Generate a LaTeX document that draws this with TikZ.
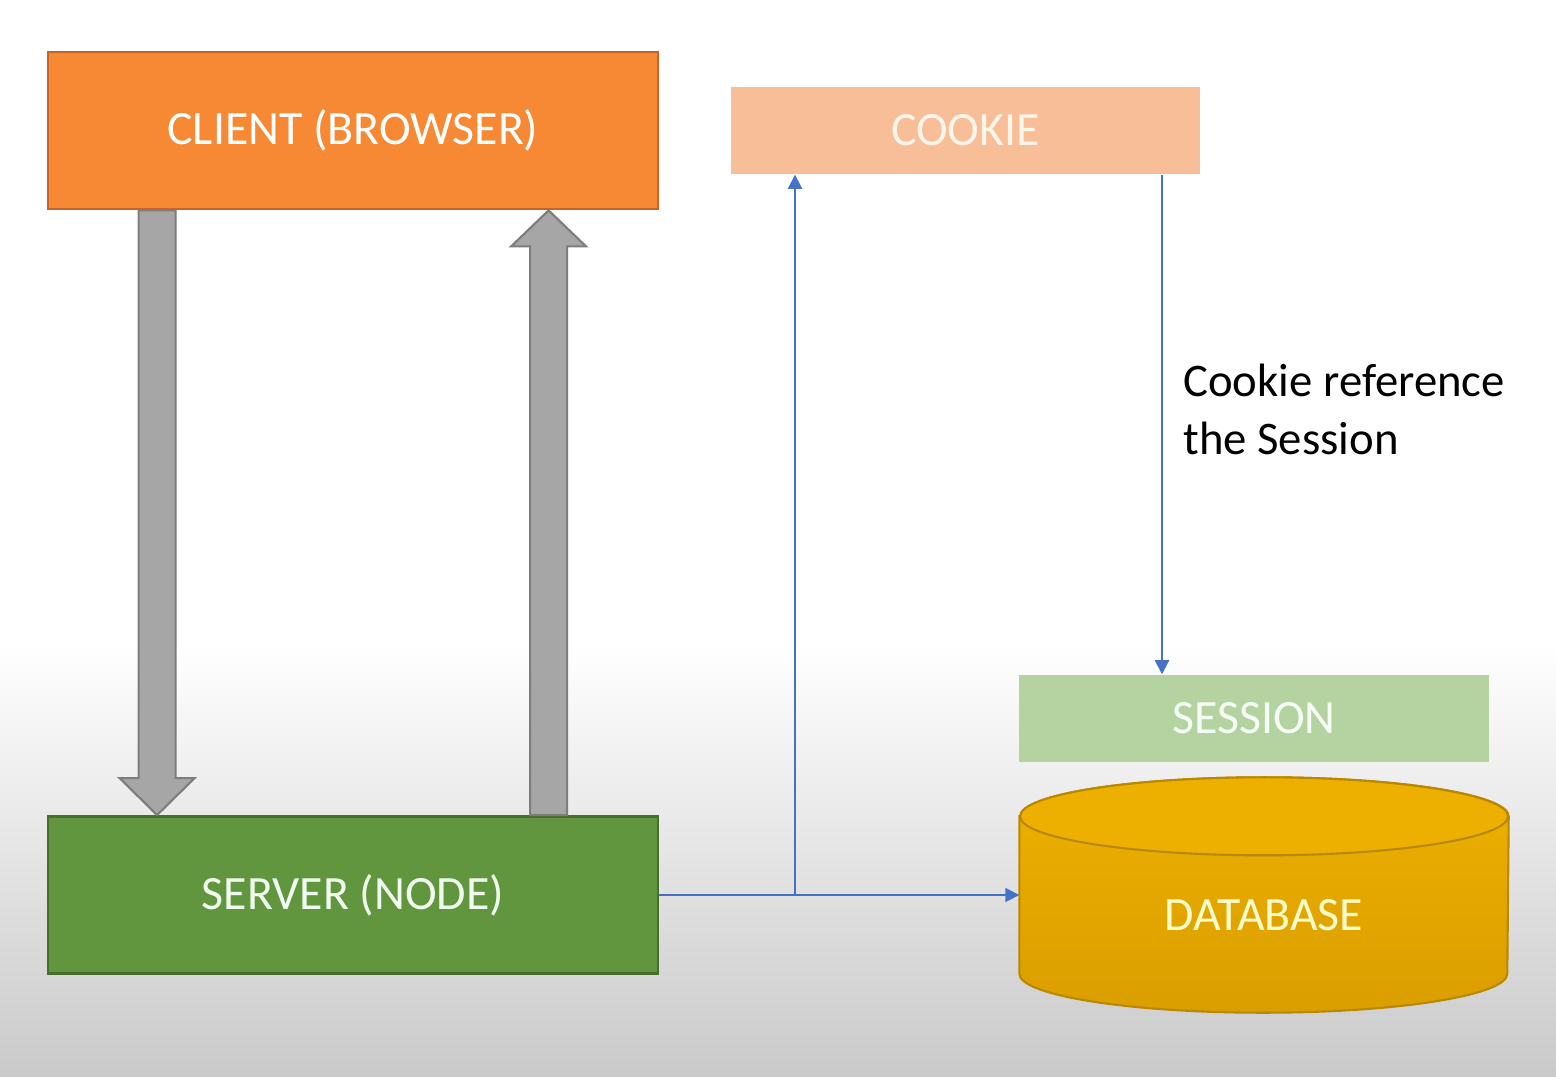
\documentclass[tikz,border=0pt]{standalone}
\usepackage{fontspec}
\setmainfont{Carlito}
\usetikzlibrary{calc,arrows.meta}
\definecolor{clientfill}{RGB}{247,136,52}
\definecolor{clientline}{RGB}{200,100,40}
\definecolor{cookiefill}{RGB}{248,190,152}
\definecolor{serverfill}{RGB}{98,150,62}
\definecolor{serverline}{RGB}{70,110,45}
\definecolor{sessionfill}{RGB}{181,211,160}
\definecolor{dbtop}{RGB}{238,176,0}
\definecolor{dbbottom}{RGB}{218,158,0}
\definecolor{dbline}{RGB}{185,135,0}
\definecolor{arrowfill}{RGB}{166,166,166}
\definecolor{arrowline}{RGB}{125,125,125}
\definecolor{linkblue}{RGB}{68,114,196}
\begin{document}
\begin{tikzpicture}[
    box/.style={rectangle, inner sep=0pt, font=\fontsize{13.6}{16}\selectfont},
    lowtext/.style={text depth=0.1cm},
    blockarrow/.style={fill=arrowfill, draw=arrowline, line width=0.6pt},
    link/.style={draw=linkblue, line width=0.5pt},
    tip/.style={-{Triangle[width=4pt,length=4pt]}}
  ]
  % background
  \useasboundingbox (0,0) rectangle (15.56,10.76);
  \fill[white] (0,4.3) rectangle (15.56,10.76);
  \shade[top color=white, bottom color=black!21] (0,0) rectangle (15.56,4.31);

  % boxes
  \node[box, fill=clientfill, draw=clientline, line width=0.8pt, minimum width=6.1cm, minimum height=1.57cm, text=white] (client) at (3.53,9.455) {CLIENT (BROWSER)};
  \node[box, fill=cookiefill, minimum width=4.69cm, minimum height=0.87cm, text=orange!8] (cookie) at (9.655,9.455) {COOKIE};
  \node[box, fill=serverfill, draw=serverline, line width=0.8pt, minimum width=6.1cm, minimum height=1.57cm, text=green!6!white] (server) at (3.53,1.81) {SERVER (NODE)};
  \node[box, fill=sessionfill, minimum width=4.7cm, minimum height=0.87cm, text=green!4!white] (session) at (12.54,3.575) {SESSION};

  % database
  \node[box, minimum width=4.88cm, minimum height=2.34cm] (db) at (12.64,1.81) {};
  \draw[top color=dbtop, bottom color=dbbottom, draw=dbline, line width=0.6pt]
    ($(db.north west)+(0,-0.39)$) -- ($(db.south west)+(0,0.39)$)
    arc[start angle=180, end angle=360, x radius=2.44cm, y radius=0.39cm]
    -- ($(db.north east)+(0,-0.39)$)
    arc[start angle=0, end angle=180, x radius=2.44cm, y radius=0.39cm] -- cycle;
  \draw[fill=dbtop, draw=dbline, line width=0.6pt] ($(db.north)+(0,-0.39)$) ellipse[x radius=2.44cm, y radius=0.39cm];
  \node[box, text=yellow!20!white] (dblabel) at ($(db.center)+(0,-0.2)$) {DATABASE};

  % request / response
  \coordinate (req) at ($(client.south west)+(1.105,0)$);
  \coordinate (res) at ($(client.south west)+(5.02,0)$);
  \draw[blockarrow] ($(req)+(-0.185,0)$) -- ($(req |- server.north)+(-0.185,0.37)$)
    -- ($(req |- server.north)+(-0.375,0.37)$) -- (req |- server.north)
    -- ($(req |- server.north)+(0.375,0.37)$) -- ($(req |- server.north)+(0.185,0.37)$)
    -- ($(req)+(0.185,0)$) -- cycle;
  \draw[blockarrow] ($(res |- server.north)+(-0.185,0)$) -- ($(res)+(-0.185,-0.36)$)
    -- ($(res)+(-0.375,-0.36)$) -- (res)
    -- ($(res)+(0.375,-0.36)$) -- ($(res)+(0.185,-0.36)$)
    -- ($(res |- server.north)+(0.185,0)$) -- cycle;

  % links
  \coordinate (split) at (7.95,1.81);
  \draw[link, tip] (server.east) -- (db.west);
  \draw[link, tip] (split) -- (split |- cookie.south);
  \draw[link, tip] ([xshift=1.965cm]cookie.south) -- ([xshift=1.965cm]cookie.south |- session.north);

  \node[anchor=west, align=left, font=\fontsize{13.3}{16.5}\selectfont] (ref) at (11.71,6.67) {Cookie reference\\the Session};
\end{tikzpicture}
\end{document}
